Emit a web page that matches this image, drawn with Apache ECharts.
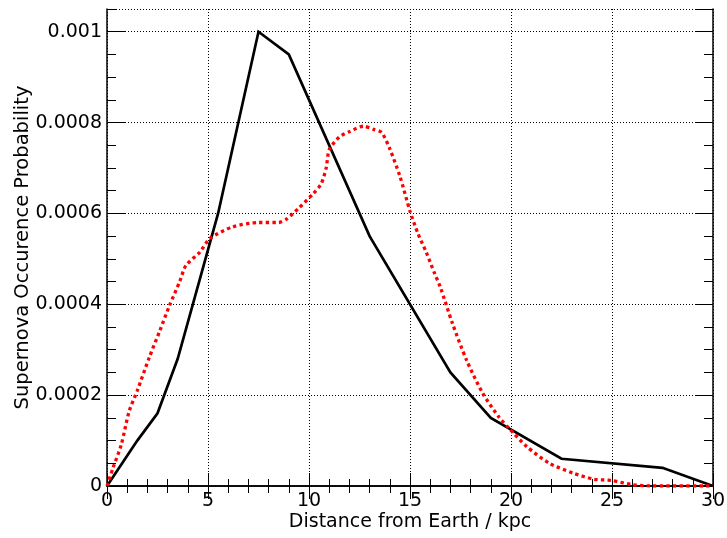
<!DOCTYPE html>
<html>
<head>
<meta charset="utf-8">
<script src="https://cdn.jsdelivr.net/npm/echarts@6/dist/echarts.min.js"></script>
<style>
html,body{margin:0;padding:0;background:#fff;}
#chart{width:727px;height:538px;}
</style>
</head>
<body>
<div id="chart"></div>
<script>
// ---- data ----
const xTitle = "Distance from Earth / kpc";
const yTitle = "Supernova Occurence Probability";
const xTickLabels = ["0", "5", "10", "15", "20", "25", "30"];
const yTickLabels = ["0", "0.0002", "0.0004", "0.0006", "0.0008", "0.001"];

const blackX = [0, 1.5, 2.5, 3.5, 5.5, 7.5, 9, 13, 17, 19, 22.5, 27.5, 30];
const blackY = [0, 0.0001, 0.00016, 0.00028, 0.0006, 0.001, 0.00095, 0.00055, 0.00025, 0.00015, 0.00006, 0.00004, 0];

const redX = [0, 0.3, 0.7, 1.1, 1.5, 2.1, 2.6, 3.1, 3.6, 3.9, 4.6, 5.1, 6.2, 7.5, 8.5, 8.9, 9.5, 10.2, 10.6, 10.85, 11.0, 11.5, 12.0, 12.7, 13.2, 13.6, 14.0, 14.5, 15.0, 15.4, 15.8, 16.2, 16.5, 17.1, 17.8, 18.6, 19.4, 19.9, 20.8, 21.9, 23.1, 24.1, 25.0, 26.0, 27.0, 30];
const redY = [0, 0.00004, 0.00009, 0.000165, 0.00021, 0.000284, 0.00034, 0.000398, 0.00045, 0.000485, 0.000515, 0.000545, 0.00057, 0.00058, 0.00058, 0.000588, 0.000612, 0.000643, 0.000665, 0.0007, 0.00074, 0.000768, 0.00078, 0.000792, 0.000785, 0.000778, 0.000742, 0.000682, 0.000605, 0.000555, 0.000515, 0.00047, 0.000438, 0.000358, 0.000277, 0.000204, 0.000152, 0.000127, 0.000086, 0.00005, 0.000028, 0.000015, 0.000012, 0.000003, 0, 0];

const xMin = 0, xMax = 30, xMajor = 5;
const yMin = 0, yMax = 0.00105, yMajor = 0.0002, yMinor = 0.00005;

// ---- chart ----
const FONT = "DejaVu Sans";
const black = "#000";
const chart = echarts.init(document.getElementById('chart'), null, {renderer: 'canvas'});

function yLabel(v) {
  const idx = Math.round(v / yMajor);
  if (Math.abs(v - idx * yMajor) < 1e-9 && idx < yTickLabels.length) return yTickLabels[idx];
  return "";
}
function xLabel(v) {
  const idx = Math.round(v / xMajor);
  return xTickLabels[idx] !== undefined ? xTickLabels[idx] : "";
}

const gridSplit = {show: true, lineStyle: {color: black, width: 1, type: [1, 2]}};
const noSplit = {show: false};
const frameLine = {show: true, lineStyle: {color: black, width: 1.5}};

const option = {
  animation: false,
  backgroundColor: "#fff",
  grid: {left: 107, right: 14, top: 9, bottom: 52, containLabel: false, outerBoundsMode: 'none'},
  xAxis: [
    {
      type: 'value', position: 'bottom', min: xMin, max: xMax, interval: xMajor,
      axisLine: frameLine,
      axisTick: {show: true, inside: true, length: 13, lineStyle: {color: black, width: 1}},
      minorTick: {show: true, splitNumber: 5, length: 7, lineStyle: {color: black, width: 1}},
      splitLine: gridSplit,
      axisLabel: {show: true, margin: 6, color: black, fontFamily: FONT, fontSize: 19, formatter: xLabel},
      name: xTitle, nameLocation: 'middle', nameGap: 27, nameMoveOverlap: false,
      nameTextStyle: {color: black, fontFamily: FONT, fontSize: 19}
    },
    {
      type: 'value', position: 'top', min: xMin, max: xMax, interval: xMajor,
      axisLine: frameLine,
      axisTick: {show: true, inside: true, length: 13, lineStyle: {color: black, width: 1}},
      minorTick: {show: true, splitNumber: 5, length: 7, lineStyle: {color: black, width: 1}},
      splitLine: noSplit,
      axisLabel: {show: false}
    }
  ],
  yAxis: [
    {
      type: 'value', position: 'left', min: yMin, max: yMax, interval: yMajor,
      axisLine: frameLine,
      axisTick: {show: true, inside: true, length: 18, lineStyle: {color: black, width: 1}},
      splitLine: gridSplit,
      axisLabel: {show: true, margin: 5, color: black, fontFamily: FONT, fontSize: 19, formatter: yLabel, showMaxLabel: false},
      name: yTitle, nameLocation: 'middle', nameGap: 74, nameRotate: 90, nameMoveOverlap: false,
      nameTextStyle: {color: black, fontFamily: FONT, fontSize: 19.5}
    },
    {
      type: 'value', position: 'left', min: yMin, max: yMax, interval: yMinor,
      axisLine: {show: false},
      axisTick: {show: true, inside: true, length: 9, lineStyle: {color: black, width: 1}},
      splitLine: noSplit,
      axisLabel: {show: false}
    },
    {
      type: 'value', position: 'right', min: yMin, max: yMax, interval: yMajor,
      axisLine: frameLine,
      axisTick: {show: true, inside: true, length: 18, lineStyle: {color: black, width: 1}},
      splitLine: noSplit,
      axisLabel: {show: false}
    },
    {
      type: 'value', position: 'right', min: yMin, max: yMax, interval: yMinor,
      axisLine: {show: false},
      axisTick: {show: true, inside: true, length: 9, lineStyle: {color: black, width: 1}},
      splitLine: noSplit,
      axisLabel: {show: false}
    }
  ],
  series: [
    {
      type: 'line', xAxisIndex: 0, yAxisIndex: 0,
      data: blackX.map((x, i) => [x, blackY[i]]),
      showSymbol: false, symbol: 'none',
      lineStyle: {color: black, width: 2.7, cap: 'butt', join: 'miter'},
      z: 3
    },
    {
      type: 'line', xAxisIndex: 0, yAxisIndex: 0,
      data: redX.map((x, i) => [x, redY[i]]),
      showSymbol: false, symbol: 'none', smooth: 0.25,
      lineStyle: {color: '#ff0000', width: 3.3, type: [3.3, 3.3], cap: 'butt'},
      z: 4
    }
  ]
};
chart.setOption(option);
</script>
</body>
</html>
